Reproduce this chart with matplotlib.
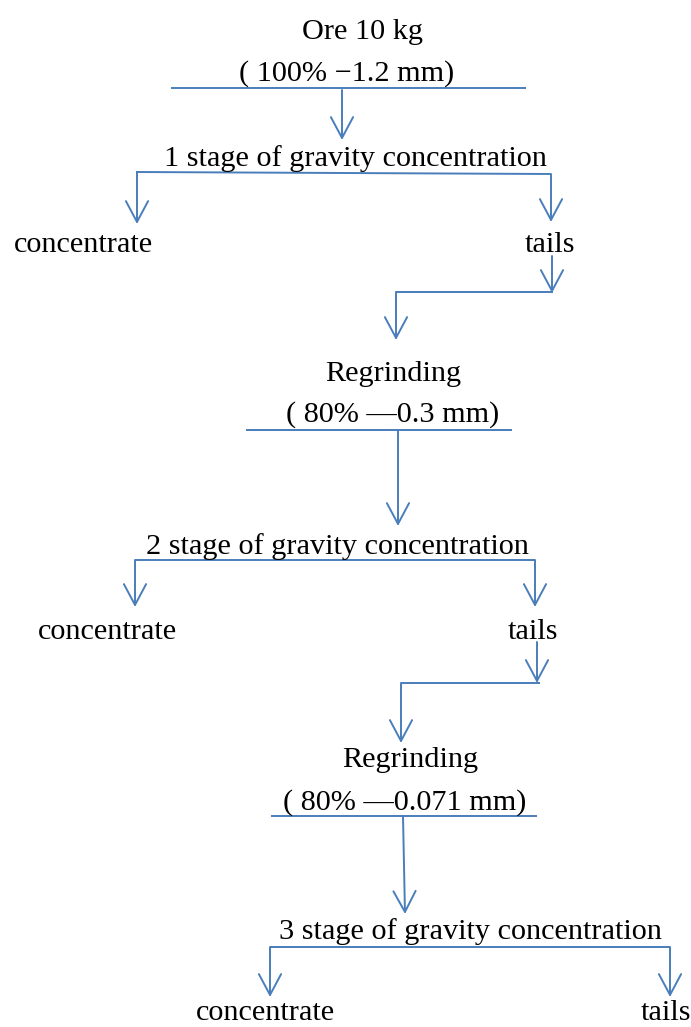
import matplotlib
matplotlib.use("Agg")
import matplotlib.pyplot as plt

W, H = 691, 1027
COLOR = "#4a7ebb"

# Node labels: (text, x_center, y_center)
labels = ["Ore 10 kg", "( 100% \u22121.2 mm)", "1 stage of gravity concentration",
          "concentrate", "tails", "Regrinding", "( 80% \u20140.3 mm)",
          "2 stage of gravity concentration", "concentrate", "tails",
          "Regrinding", "( 80% \u20140.071 mm)", "3 stage of gravity concentration",
          "concentrate", "tails"]
label_x = [363, 347, 355, 83, 550, 393, 393, 337, 107, 533, 410, 405, 470, 265, 666]
label_y = [32, 74, 159, 245, 245, 374, 415, 547, 632, 632, 760, 803, 932, 1013, 1013]

# Plain connector lines: (x0, y0, x1, y1)
lines = [
    (171, 88, 526, 88),
    (136, 172, 551, 174),
    (396, 292, 553, 292),
    (246, 430, 512, 430),
    (135, 560, 535, 560),
    (401, 683, 540, 683),
    (271, 816, 537, 816),
    (270, 947, 670, 947),
]

# Arrows: (x_start, y_start, x_tip, y_tip)
arrows = [
    (342, 90, 342, 140),
    (137, 172, 137, 224),
    (551, 174, 551, 222),
    (552, 256, 552, 293),
    (396, 292, 396, 340),
    (398, 430, 398, 526),
    (135, 560, 135, 607),
    (535, 560, 535, 607),
    (537, 642, 537, 683),
    (401, 683, 401, 743),
    (403, 816, 405, 914),
    (270, 947, 270, 997),
    (670, 947, 670, 997),
]

fig = plt.figure(figsize=(W / 100, H / 100), dpi=100)
ax = fig.add_axes([0, 0, 1, 1])
ax.set_xlim(0, W)
ax.set_ylim(H, 0)
ax.axis("off")

lw = 1.4
for x0, y0, x1, y1 in lines:
    ax.plot([x0, x1], [y0, y1], color=COLOR, lw=lw, solid_capstyle="butt")

for x0, y0, x1, y1 in arrows:
    ax.annotate("", xy=(x1, y1), xytext=(x0, y0),
                arrowprops=dict(arrowstyle="->,head_length=1.5,head_width=0.8",
                                color=COLOR, lw=lw, shrinkA=0, shrinkB=0,
                                mutation_scale=10))

for t, x, y in zip(labels, label_x, label_y):
    ax.text(x, y, t, ha="center", va="center", fontsize=21.8,
            family=["Liberation Serif", "DejaVu Serif"], color="black")

fig.savefig("out.png", dpi=100)
